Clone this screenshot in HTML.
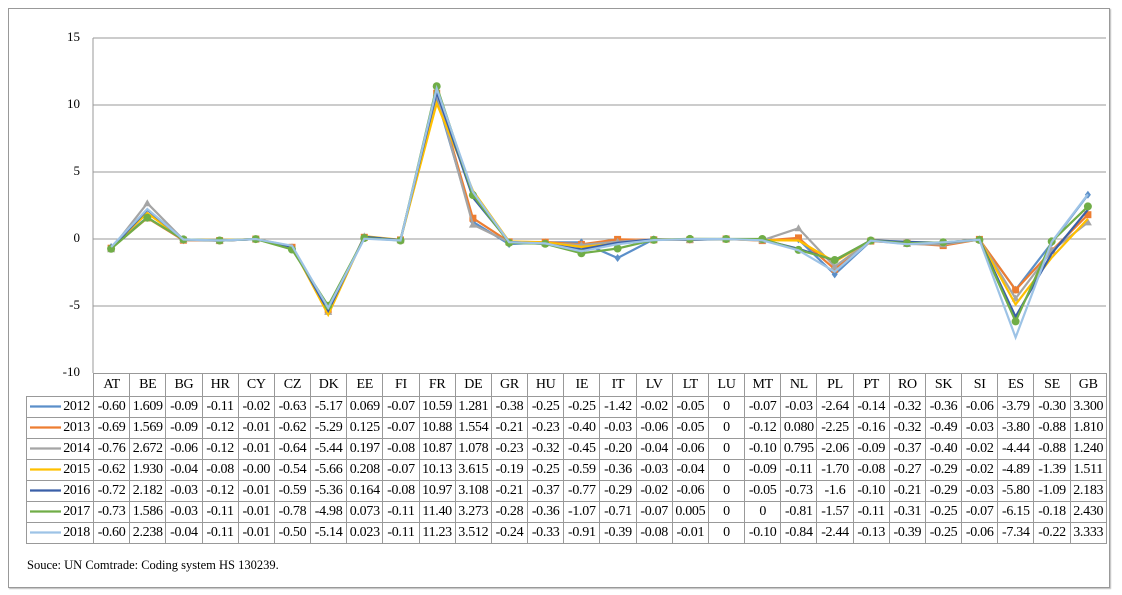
<!DOCTYPE html>
<html><head><meta charset="utf-8"><style>
body{margin:0;background:#fff;width:1122px;height:595px;position:relative;overflow:hidden;font-family:"Liberation Serif",serif}
#frame{position:absolute;left:8px;top:8px;width:1100px;height:578px;border:1px solid #999;box-shadow:1px 1px 1px #bbb}
svg{position:absolute;left:0;top:0}
table{position:absolute;left:26px;top:373px;border-collapse:collapse;table-layout:fixed;width:1080px;font-size:14px;color:#000}
td{border:1px solid #999;height:20px;padding:0;text-align:center;white-space:nowrap;overflow:hidden;letter-spacing:-0.3px}
tr:first-child td{height:22px}
td.lg{text-align:right;padding-right:3px}
tr:first-child td.lg{border:none;border-right:1px solid #999}
.src{position:absolute;left:27px;top:558px;font-size:12.5px}
.yl{position:absolute;width:40px;text-align:right;left:40px;font-size:13px}
</style></head><body>
<div id="frame"></div>
<div class="yl" style="top:29px">15</div>
<div class="yl" style="top:96px">10</div>
<div class="yl" style="top:163px">5</div>
<div class="yl" style="top:230px">0</div>
<div class="yl" style="top:297px">-5</div>
<div class="yl" style="top:364px">-10</div>
<svg id="s" width="1122" height="595"></svg>
<table>
<colgroup><col style="width:67px"><col span="28" style="width:36.18px"></colgroup>
<tr><td class="lg"></td><td>AT</td><td>BE</td><td>BG</td><td>HR</td><td>CY</td><td>CZ</td><td>DK</td><td>EE</td><td>FI</td><td>FR</td><td>DE</td><td>GR</td><td>HU</td><td>IE</td><td>IT</td><td>LV</td><td>LT</td><td>LU</td><td>MT</td><td>NL</td><td>PL</td><td>PT</td><td>RO</td><td>SK</td><td>SI</td><td>ES</td><td>SE</td><td>GB</td></tr>
<tr><td class="lg">2012</td><td>-0.60</td><td>1.609</td><td>-0.09</td><td>-0.11</td><td>-0.02</td><td>-0.63</td><td>-5.17</td><td>0.069</td><td>-0.07</td><td>10.59</td><td>1.281</td><td>-0.38</td><td>-0.25</td><td>-0.25</td><td>-1.42</td><td>-0.02</td><td>-0.05</td><td>0</td><td>-0.07</td><td>-0.03</td><td>-2.64</td><td>-0.14</td><td>-0.32</td><td>-0.36</td><td>-0.06</td><td>-3.79</td><td>-0.30</td><td>3.300</td></tr>
<tr><td class="lg">2013</td><td>-0.69</td><td>1.569</td><td>-0.09</td><td>-0.12</td><td>-0.01</td><td>-0.62</td><td>-5.29</td><td>0.125</td><td>-0.07</td><td>10.88</td><td>1.554</td><td>-0.21</td><td>-0.23</td><td>-0.40</td><td>-0.03</td><td>-0.06</td><td>-0.05</td><td>0</td><td>-0.12</td><td>0.080</td><td>-2.25</td><td>-0.16</td><td>-0.32</td><td>-0.49</td><td>-0.03</td><td>-3.80</td><td>-0.88</td><td>1.810</td></tr>
<tr><td class="lg">2014</td><td>-0.76</td><td>2.672</td><td>-0.06</td><td>-0.12</td><td>-0.01</td><td>-0.64</td><td>-5.44</td><td>0.197</td><td>-0.08</td><td>10.87</td><td>1.078</td><td>-0.23</td><td>-0.32</td><td>-0.45</td><td>-0.20</td><td>-0.04</td><td>-0.06</td><td>0</td><td>-0.10</td><td>0.795</td><td>-2.06</td><td>-0.09</td><td>-0.37</td><td>-0.40</td><td>-0.02</td><td>-4.44</td><td>-0.88</td><td>1.240</td></tr>
<tr><td class="lg">2015</td><td>-0.62</td><td>1.930</td><td>-0.04</td><td>-0.08</td><td>-0.00</td><td>-0.54</td><td>-5.66</td><td>0.208</td><td>-0.07</td><td>10.13</td><td>3.615</td><td>-0.19</td><td>-0.25</td><td>-0.59</td><td>-0.36</td><td>-0.03</td><td>-0.04</td><td>0</td><td>-0.09</td><td>-0.11</td><td>-1.70</td><td>-0.08</td><td>-0.27</td><td>-0.29</td><td>-0.02</td><td>-4.89</td><td>-1.39</td><td>1.511</td></tr>
<tr><td class="lg">2016</td><td>-0.72</td><td>2.182</td><td>-0.03</td><td>-0.12</td><td>-0.01</td><td>-0.59</td><td>-5.36</td><td>0.164</td><td>-0.08</td><td>10.97</td><td>3.108</td><td>-0.21</td><td>-0.37</td><td>-0.77</td><td>-0.29</td><td>-0.02</td><td>-0.06</td><td>0</td><td>-0.05</td><td>-0.73</td><td>-1.6</td><td>-0.10</td><td>-0.21</td><td>-0.29</td><td>-0.03</td><td>-5.80</td><td>-1.09</td><td>2.183</td></tr>
<tr><td class="lg">2017</td><td>-0.73</td><td>1.586</td><td>-0.03</td><td>-0.11</td><td>-0.01</td><td>-0.78</td><td>-4.98</td><td>0.073</td><td>-0.11</td><td>11.40</td><td>3.273</td><td>-0.28</td><td>-0.36</td><td>-1.07</td><td>-0.71</td><td>-0.07</td><td>0.005</td><td>0</td><td>0</td><td>-0.81</td><td>-1.57</td><td>-0.11</td><td>-0.31</td><td>-0.25</td><td>-0.07</td><td>-6.15</td><td>-0.18</td><td>2.430</td></tr>
<tr><td class="lg">2018</td><td>-0.60</td><td>2.238</td><td>-0.04</td><td>-0.11</td><td>-0.01</td><td>-0.50</td><td>-5.14</td><td>0.023</td><td>-0.11</td><td>11.23</td><td>3.512</td><td>-0.24</td><td>-0.33</td><td>-0.91</td><td>-0.39</td><td>-0.08</td><td>-0.01</td><td>0</td><td>-0.10</td><td>-0.84</td><td>-2.44</td><td>-0.13</td><td>-0.39</td><td>-0.25</td><td>-0.06</td><td>-7.34</td><td>-0.22</td><td>3.333</td></tr>
</table>
<div class="src">Souce: UN Comtrade: Coding system HS 130239.</div>
<script>
var rows=document.querySelectorAll('table tr');
var cols=['#5b8fc9','#ed7d31','#a5a5a5','#ffc000','#3a5fa8','#70ad47','#9dc3e6'];
var L=93,R=1106,n=28,w=(R-L)/n;
function Y(v){return 239-v*13.4;}
var s='';
[15,10,5,0,-5].forEach(function(v){s+='<line x1="'+L+'" x2="'+R+'" y1="'+Y(v)+'" y2="'+Y(v)+'" stroke="#999" stroke-width="1"/>';});
s+='<line x1="'+L+'" x2="'+L+'" y1="38" y2="373" stroke="#999"/>';
for(var r=1;r<rows.length;r++){
 var c=rows[r].querySelectorAll('td'),pts=[];
 for(var i=1;i<c.length;i++){pts.push((L+w*(i-0.5)).toFixed(1)+','+Y(parseFloat(c[i].textContent)).toFixed(1));}
 var col=cols[r-1];
 s+='<polyline points="'+pts.join(' ')+'" fill="none" stroke="'+col+'" stroke-width="2.2"/>';
 pts.forEach(function(p){var q=p.split(',');
  if(r==2)s+='<rect x="'+(q[0]-3.5)+'" y="'+(q[1]-3.5)+'" width="7" height="7" fill="'+col+'"/>';
  else if(r==6)s+='<circle cx="'+q[0]+'" cy="'+q[1]+'" r="4" fill="'+col+'"/>';
  else if(r==3)s+='<path d="M'+q[0]+','+(q[1]-4)+'l4,7h-8z" fill="'+col+'"/>';
  else if(r==1)s+='<path d="M'+q[0]+','+(q[1]-4)+'l3,4l-3,4l-3,-4z" fill="'+col+'"/>';
 });
 var ly=406.5+(r-1)*21;
 s+='<line x1="30" x2="61" y1="'+ly+'" y2="'+ly+'" stroke="'+col+'" stroke-width="2.2"/>';
}
document.getElementById('s').innerHTML=s;
</script>
</body></html>
